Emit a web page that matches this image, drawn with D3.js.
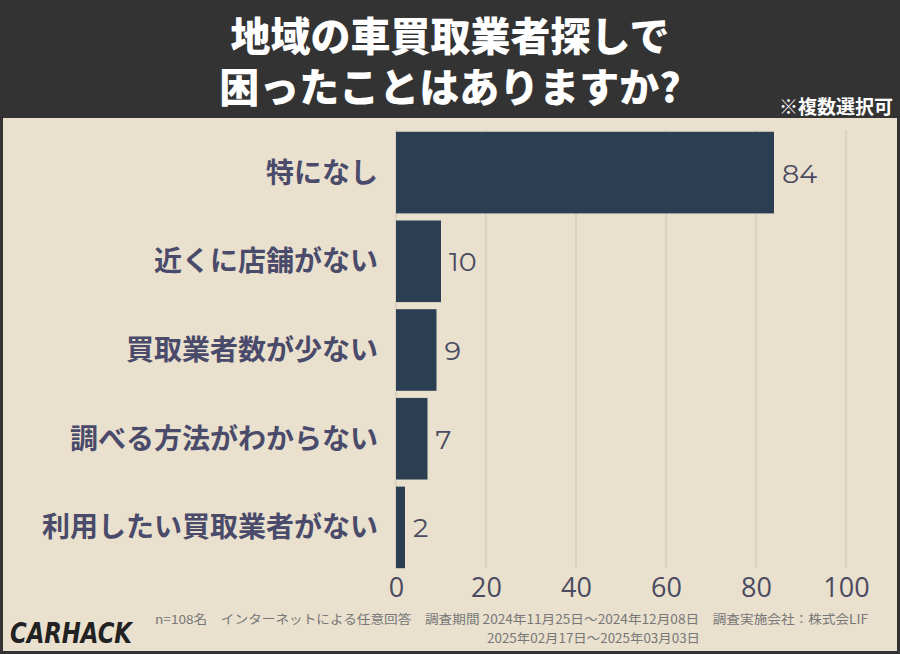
<!DOCTYPE html><html><head><meta charset="utf-8"><script src="https://cdn.jsdelivr.net/npm/d3@7"></script>
<style>body{margin:0}svg{display:block}</style></head><body><svg id="c" width="900" height="654"></svg>
<script>
const categories=["特になし","近くに店舗がない","買取業者数が少ない","調べる方法がわからない","利用したい買取業者がない"];
const values=[84,10,9,7,2];
const ticks=[0,20,40,60,80,100];
const svg=d3.select("#c");
const JP="'Noto Sans CJK JP','Noto Sans',sans-serif";
svg.append("rect").attr("width",900).attr("height",654).attr("fill","#e9e0ce");
svg.append("rect").attr("width",900).attr("height",118).attr("fill","#333333");
svg.append("rect").attr("x",0).attr("y",0).attr("width",900).attr("height",654).attr("fill","none").attr("stroke","#333").attr("stroke-width",6);
["地域の車買取業者探しで","困ったことはありますか?"].forEach((t,i)=>svg.append("text").attr("x",450).attr("y",51+i*51).attr("text-anchor","middle").attr("fill","#fff").attr("font-family",JP).attr("font-weight",900).attr("font-size",40).text(t));
svg.append("text").attr("x",893).attr("y",114).attr("text-anchor","end").attr("fill","#fff").attr("font-family",JP).attr("font-weight",700).attr("font-size",19).text("※複数選択可");
const x=d3.scaleLinear().domain([0,100]).range([396,846]);
const y=d3.scaleBand().domain(categories).range([130,570]).paddingInner(0.08).paddingOuter(0.02);
const g=svg.append("g");
ticks.forEach(t=>g.append("line").attr("x1",x(t)).attr("x2",x(t)).attr("y1",130).attr("y2",568).attr("stroke","#d6cdbb").attr("stroke-width",1.5));
g.selectAll(".b").data(values).join("rect").attr("x",x(0)).attr("y",(d,i)=>y(categories[i])).attr("width",d=>x(d)-x(0)).attr("height",y.bandwidth()).attr("fill","#2c3e52");
g.selectAll(".v").data(values).join("text").attr("x",d=>x(d)+8).attr("y",(d,i)=>y(categories[i])+y.bandwidth()/2+10).attr("fill","#4a4a60").attr("font-family","Montserrat,'Open Sans',sans-serif").attr("font-size",27).text(d=>d);
categories.forEach(c=>g.append("text").attr("x",378).attr("y",y(c)+y.bandwidth()/2+10).attr("text-anchor","end").attr("fill","#4a4a6a").attr("font-family",JP).attr("font-weight",700).attr("font-size",28).text(c));
const ax=svg.append("g").attr("transform","translate(0,572)").call(d3.axisBottom(x).tickValues(ticks).tickSize(0).tickPadding(6));
ax.select(".domain").remove();
ax.selectAll("text").attr("fill","#4a4a60").attr("font-family","'Open Sans',sans-serif").attr("font-size",27);
const ft=svg.append("g").attr("fill","#777").attr("font-family",JP).attr("font-size",12.5);
ft.append("text").attr("x",155).attr("y",624).attr("textLength",713).attr("lengthAdjust","spacingAndGlyphs").text("n=108名　インターネットによる任意回答　調査期間 2024年11月25日～2024年12月08日　調査実施会社：株式会LIF");
ft.append("text").attr("x",487).attr("y",643).attr("textLength",213).attr("lengthAdjust","spacingAndGlyphs").text("2025年02月17日～2025年03月03日");
svg.append("text").attr("x",10).attr("y",643).attr("fill","#222").attr("font-family","'DejaVu Sans Condensed',sans-serif").attr("font-weight",700).attr("font-style","italic").attr("font-size",28).attr("textLength",122).attr("lengthAdjust","spacingAndGlyphs").text("CARHACK");
</script></body></html>
